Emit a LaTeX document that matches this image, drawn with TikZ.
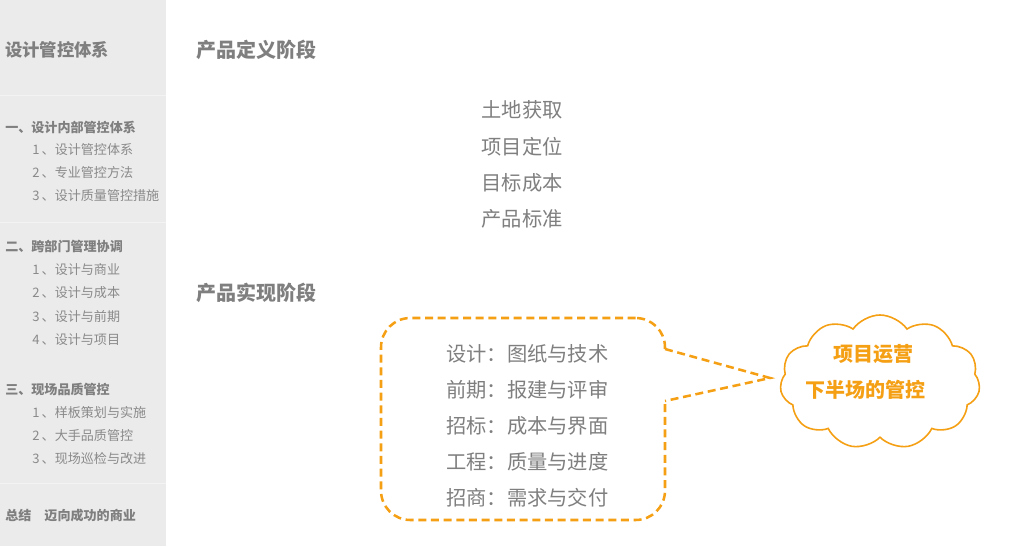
\documentclass[tikz,border=0pt]{standalone}
\usepackage{fontspec}
\setmainfont{Noto Sans CJK SC}
\usetikzlibrary{shapes.symbols,calc}
\definecolor{sidebg}{HTML}{EBEBEB}
\definecolor{sideline}{HTML}{F3F3F3}
\definecolor{txtgray}{HTML}{7F7F7F}
\definecolor{itemgray}{HTML}{8A8A8A}
\definecolor{orng}{HTML}{F5A014}
\tikzset{
  sidetitle/.style={anchor=west,inner sep=0pt,font=\fontsize{13}{15}\selectfont\bfseries,text=txtgray},
  sidehead/.style={anchor=west,inner sep=0pt,font=\fontsize{9.8}{11}\selectfont\bfseries,text=txtgray},
  sideitem/.style={anchor=west,inner sep=0pt,font=\fontsize{9.8}{11}\selectfont,text=itemgray},
  stagehead/.style={anchor=west,inner sep=0pt,font=\fontsize{15}{17}\selectfont\bfseries,text=txtgray},
  listitem/.style={anchor=center,inner sep=0pt,font=\fontsize{15.2}{17}\selectfont,text=txtgray},
  bubitem/.style={anchor=west,inner sep=0pt,font=\fontsize{15.2}{17}\selectfont,text=txtgray},
  cloudtxt/.style={anchor=center,inner sep=0pt,font=\fontsize{15}{17}\selectfont\bfseries,text=orng},
  dashline/.style={draw=orng,line width=1.9pt,dash pattern=on 6pt off 3.5pt},
}
\begin{document}
\begin{tikzpicture}[x=0.75pt,y=-0.75pt]
\useasboundingbox (0,0) rectangle (1024,546);
\fill[white] (0,0) rectangle (1024,546);
% sidebar
\fill[sidebg] (0,0) rectangle (166,546);
\draw[sideline,line width=0.75pt] (0,95) -- (166,95);
\draw[sideline,line width=0.75pt] (0,222) -- (166,222);
\draw[sideline,line width=0.75pt] (0,483) -- (166,483);
\node[sidetitle] (st) at (5,50) {设计管控体系};
\node[sidehead] (h1) at (5,127) {一、设计内部管控体系};
\node[sideitem] (h1a) at (32,150) {1\,、设计管控体系};
\node[sideitem] (h1b) at (32,173) {2\,、专业管控方法};
\node[sideitem] (h1c) at (32,196) {3\,、设计质量管控措施};
\node[sidehead] (h2) at (5,247) {二、跨部门管理协调};
\node[sideitem] (h2a) at (32,270) {1\,、设计与商业};
\node[sideitem] (h2b) at (32,293) {2\,、设计与成本};
\node[sideitem] (h2c) at (32,317) {3\,、设计与前期};
\node[sideitem] (h2d) at (32,340) {4\,、设计与项目};
\node[sidehead] (h3) at (5,389) {三、现场品质管控};
\node[sideitem] (h3a) at (32,412) {1\,、样板策划与实施};
\node[sideitem] (h3b) at (32,436) {2\,、大手品质管控};
\node[sideitem] (h3c) at (32,459) {3\,、现场巡检与改进};
\node[sidehead] (h4) at (5,516) {总结\hspace{1em}迈向成功的商业};
% stage 1
\node[stagehead] (s1) at (196,50) {产品定义阶段};
\node[listitem] (l1) at (522,110) {土地获取};
\node[listitem] (l2) at (522,147) {项目定位};
\node[listitem] (l3) at (522,183) {目标成本};
\node[listitem] (l4) at (522,219) {产品标准};
% stage 2
\node[stagehead] (s2) at (196,293) {产品实现阶段};
\node[dashline,rounded corners=22pt,minimum width=284*0.75pt,minimum height=202*0.75pt,inner sep=0pt] (bub) at (523,419) {};
\coordinate (p1) at (665,349);
\coordinate (p2) at (665,401);
\coordinate (tip) at (770,378);
\fill[white] ($(p1)+(-4,0)$) rectangle ($(p2)+(4,0)$);
\draw[dashline,line join=miter] (p1) -- (tip) -- (p2);
\node[bubitem] (b1) at (446,354) {设计：图纸与技术};
\node[bubitem] (b2) at (446,390) {前期：报建与评审};
\node[bubitem] (b3) at (446,426) {招标：成本与界面};
\node[bubitem] (b4) at (446,462) {工程：质量与进度};
\node[bubitem] (b5) at (446,498) {招商：需求与交付};
% cloud
\node[cloud,cloud puffs=11,cloud puff arc=110,aspect=1.5,draw=orng,line width=1.2pt,fill=white,minimum width=200*0.75pt,minimum height=134*0.75pt,inner sep=0pt] (cl) at (880,382) {};
\node[cloudtxt] (c1) at (873,354) {项目运营};
\node[cloudtxt] (c2) at (865,390) {下半场的管控};
\end{tikzpicture}
\end{document}
